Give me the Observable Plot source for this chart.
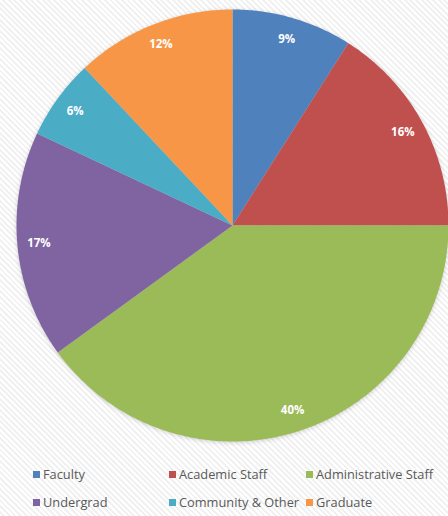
<!DOCTYPE html>
<html>
<head>
<meta charset="utf-8">
<script src="https://cdn.jsdelivr.net/npm/d3@7"></script>
<script src="https://cdn.jsdelivr.net/npm/@observablehq/plot@0.6"></script>
<style>
  html, body { margin: 0; padding: 0; }
  body {
    width: 448px; height: 516px; overflow: hidden;
    background: repeating-linear-gradient(45deg, #ffffff 0px, #ffffff 2px, #f1f1f1 2px, #f1f1f1 4px);
    font-family: "Open Sans", sans-serif;
  }
  #chart svg { display: block; overflow: visible; }
  #chart svg g[aria-label="line"] { filter: drop-shadow(0px 1px 2px rgba(0,0,0,0.18)); }
  #legend {
    display: grid;
    grid-template-columns: 136px 137px 142px;
    row-gap: 10px;
    padding-left: 33px;
    margin-top: 13px;
    font-size: 12.8px;
    color: #595959;
  }
  #legend .item { display: flex; align-items: center; height: 18px; white-space: nowrap; }
  #legend .sw { width: 7px; height: 7px; margin-right: 3px; }
</style>
</head>
<body>
<div id="chart"></div>
<div id="legend"></div>
<script>
const categories = ["Faculty", "Academic Staff", "Administrative Staff", "Undergrad", "Community & Other", "Graduate"];
const values = [9, 16, 40, 17, 6, 12];
const labels = ["9%", "16%", "40%", "17%", "6%", "12%"];
const colors = ["#4F81BD", "#C0504D", "#9BBB59", "#8064A2", "#4BACC6", "#F79646"];

const arcs = d3.pie().sort(null).value(d => d)(values);

// polygon vertices for each slice (unit circle), angle 0 at 12 o'clock, clockwise
const slicePoints = [];
arcs.forEach((a, i) => {
  slicePoints.push({cat: categories[i], x: 0, y: 0});
  const n = Math.max(2, Math.ceil((a.endAngle - a.startAngle) / 0.01));
  for (let k = 0; k <= n; k++) {
    const t = a.startAngle + (a.endAngle - a.startAngle) * k / n;
    slicePoints.push({cat: categories[i], x: Math.sin(t), y: Math.cos(t)});
  }
  slicePoints.push({cat: categories[i], x: 0, y: 0});
});

const labelPts = arcs.map((a, i) => {
  const m = (a.startAngle + a.endAngle) / 2;
  return {label: labels[i], x: 0.9 * Math.sin(m), y: 0.9 * Math.cos(m)};
});

const R = 216;
const plot = Plot.plot({
  width: 448,
  height: 452,
  marginLeft: 232 - R,
  marginRight: 448 - 232 - R,
  marginTop: 225 - R,
  marginBottom: 452 - 225 - R,
  x: {domain: [-1, 1], axis: null},
  y: {domain: [-1, 1], axis: null},
  color: {domain: categories, range: colors},
  style: {background: "transparent", overflow: "visible"},
  marks: [
    Plot.line(slicePoints, {x: "x", y: "y", z: "cat", fill: "cat", stroke: "none", curve: "linear"}),
    Plot.text(labelPts, {x: "x", y: "y", text: "label", fill: "white", fontSize: 11.5, fontWeight: "bold", fontFamily: "Open Sans, sans-serif"})
  ]
});
document.getElementById("chart").appendChild(plot);

const legend = document.getElementById("legend");
categories.forEach((c, i) => {
  const it = document.createElement("div");
  it.className = "item";
  const sw = document.createElement("span");
  sw.className = "sw";
  sw.style.background = colors[i];
  const tx = document.createElement("span");
  tx.textContent = c;
  it.appendChild(sw); it.appendChild(tx);
  legend.appendChild(it);
});
</script>
</body>
</html>
